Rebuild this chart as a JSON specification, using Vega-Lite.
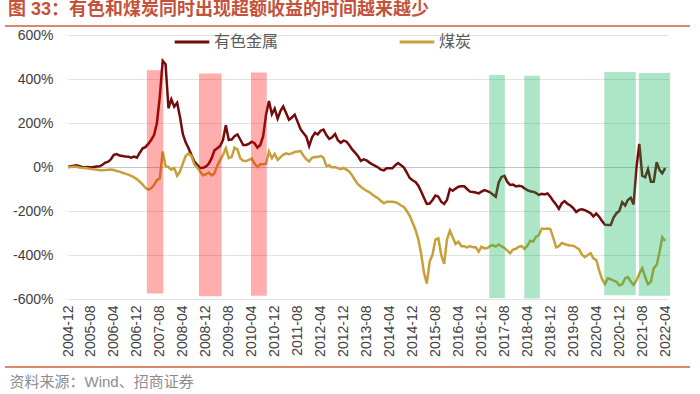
{
  "$schema": "https://vega.github.io/schema/vega-lite/v6.json",
  "width": 685,
  "height": 341,
  "autosize": {"type": "none"},
  "padding": {"left": 5, "top": 26, "right": 10, "bottom": 27},
  "background": "white",
  "config": {
    "view": {"stroke": "#D98A6E", "strokeWidth": 2, "strokeDash": [685, 341]},
    "font": "Liberation Sans, Noto Sans CJK SC",
    "axisX": {"labelOverlap": false, "labelSeparation": 0, "labelBound": false}
  },
  "title": {
    "text": "图 33：有色和煤炭同时出现超额收益的时间越来越少",
    "anchor": "start",
    "frame": "group",
    "offset": 4,
    "dx": 3,
    "fontSize": 18,
    "fontWeight": "bold",
    "color": "#C4523A",
    "font": "Liberation Sans, Noto Sans CJK SC"
  },
  "datasets": {
    "bands": [
      {"kind": "red", "start": "2007-03-17", "end": "2007-09-07", "top": 440, "bottom": -575},
      {"kind": "red", "start": "2008-09-20", "end": "2009-05-17", "top": 425, "bottom": -587},
      {"kind": "red", "start": "2010-03-24", "end": "2010-09-08", "top": 430, "bottom": -585},
      {"kind": "green", "start": "2017-02-21", "end": "2017-08-06", "top": 418, "bottom": -595},
      {"kind": "green", "start": "2018-02-27", "end": "2018-08-12", "top": 415, "bottom": -598},
      {"kind": "green", "start": "2020-06-24", "end": "2021-05-25", "top": 432, "bottom": -583},
      {"kind": "green", "start": "2021-06-26", "end": "2022-05-24", "top": 427, "bottom": -585}
    ],
    "series": [
      {"d": "2004-12", "有色金属": 0, "煤炭": -1},
      {"d": "2005-01", "有色金属": 3, "煤炭": 0},
      {"d": "2005-02", "有色金属": 6, "煤炭": 1},
      {"d": "2005-03", "有色金属": 8, "煤炭": 1},
      {"d": "2005-04", "有色金属": 4, "煤炭": -2},
      {"d": "2005-05", "有色金属": 0, "煤炭": -4},
      {"d": "2005-06", "有色金属": -1, "煤炭": -5},
      {"d": "2005-07", "有色金属": 0, "煤炭": -7},
      {"d": "2005-08", "有色金属": -2, "煤炭": -9},
      {"d": "2005-09", "有色金属": 0, "煤炭": -10},
      {"d": "2005-10", "有色金属": 2, "煤炭": -12},
      {"d": "2005-11", "有色金属": 3, "煤炭": -15},
      {"d": "2005-12", "有色金属": 10, "煤炭": -15},
      {"d": "2006-01", "有色金属": 20, "煤炭": -14},
      {"d": "2006-02", "有色金属": 24, "煤炭": -12},
      {"d": "2006-03", "有色金属": 35, "煤炭": -11},
      {"d": "2006-04", "有色金属": 55, "煤炭": -14},
      {"d": "2006-05", "有色金属": 59, "煤炭": -18},
      {"d": "2006-06", "有色金属": 52, "煤炭": -21},
      {"d": "2006-07", "有色金属": 50, "煤炭": -26},
      {"d": "2006-08", "有色金属": 48, "煤炭": -30},
      {"d": "2006-09", "有色金属": 47, "煤炭": -35},
      {"d": "2006-10", "有色金属": 42, "煤炭": -40},
      {"d": "2006-11", "有色金属": 47, "煤炭": -47},
      {"d": "2006-12", "有色金属": 42, "煤炭": -55},
      {"d": "2007-01", "有色金属": 65, "煤炭": -67},
      {"d": "2007-02", "有色金属": 85, "煤炭": -80},
      {"d": "2007-03", "有色金属": 90, "煤炭": -95},
      {"d": "2007-04", "有色金属": 105, "煤炭": -103},
      {"d": "2007-05", "有色金属": 123, "煤炭": -97},
      {"d": "2007-06", "有色金属": 145, "煤炭": -82},
      {"d": "2007-07", "有色金属": 199, "煤炭": -60},
      {"d": "2007-08", "有色金属": 320, "煤炭": -52},
      {"d": "2007-09", "有色金属": 482, "煤炭": 70},
      {"d": "2007-10", "有色金属": 467, "煤炭": 5},
      {"d": "2007-11", "有色金属": 267, "煤炭": 0},
      {"d": "2007-12", "有色金属": 308, "煤炭": -12},
      {"d": "2008-01", "有色金属": 274, "煤炭": -5},
      {"d": "2008-02", "有色金属": 292, "煤炭": -40},
      {"d": "2008-03", "有色金属": 230, "煤炭": -22},
      {"d": "2008-04", "有色金属": 150, "煤炭": 15},
      {"d": "2008-05", "有色金属": 112, "煤炭": 50},
      {"d": "2008-06", "有色金属": 85, "煤炭": 62},
      {"d": "2008-07", "有色金属": 55, "煤炭": 50},
      {"d": "2008-08", "有色金属": 25, "煤炭": 12},
      {"d": "2008-09", "有色金属": 10, "煤炭": -3},
      {"d": "2008-10", "有色金属": -4, "煤炭": -20},
      {"d": "2008-11", "有色金属": -3, "煤炭": -38},
      {"d": "2008-12", "有色金属": 2, "煤炭": -33},
      {"d": "2009-01", "有色金属": 15, "煤炭": -25},
      {"d": "2009-02", "有色金属": 40, "煤炭": -38},
      {"d": "2009-03", "有色金属": 75, "煤炭": -30},
      {"d": "2009-04", "有色金属": 85, "煤炭": 5},
      {"d": "2009-05", "有色金属": 95, "煤炭": 30},
      {"d": "2009-06", "有色金属": 123, "煤炭": 55},
      {"d": "2009-07", "有色金属": 190, "煤炭": 85},
      {"d": "2009-08", "有色金属": 123, "煤炭": 40},
      {"d": "2009-09", "有色金属": 125, "煤炭": 45},
      {"d": "2009-10", "有色金属": 140, "煤炭": 88},
      {"d": "2009-11", "有色金属": 148, "煤炭": 80},
      {"d": "2009-12", "有色金属": 125, "煤炭": 40},
      {"d": "2010-01", "有色金属": 100, "煤炭": 28},
      {"d": "2010-02", "有色金属": 100, "煤炭": 27},
      {"d": "2010-03", "有色金属": 105, "煤炭": 32},
      {"d": "2010-04", "有色金属": 115, "煤炭": 38},
      {"d": "2010-05", "有色金属": 108, "煤炭": 15},
      {"d": "2010-06", "有色金属": 88, "煤炭": 0},
      {"d": "2010-07", "有色金属": 100, "煤炭": 12},
      {"d": "2010-08", "有色金属": 140, "煤炭": 12},
      {"d": "2010-09", "有色金属": 240, "煤炭": 15},
      {"d": "2010-10", "有色金属": 300, "煤炭": 70},
      {"d": "2010-11", "有色金属": 240, "煤炭": 40},
      {"d": "2010-12", "有色金属": 265, "煤炭": 60},
      {"d": "2011-01", "有色金属": 220, "煤炭": 32},
      {"d": "2011-02", "有色金属": 255, "煤炭": 45},
      {"d": "2011-03", "有色金属": 275, "煤炭": 55},
      {"d": "2011-04", "有色金属": 245, "煤炭": 62},
      {"d": "2011-05", "有色金属": 215, "煤炭": 58},
      {"d": "2011-06", "有色金属": 225, "煤炭": 62},
      {"d": "2011-07", "有色金属": 238, "煤炭": 68},
      {"d": "2011-08", "有色金属": 205, "煤炭": 70},
      {"d": "2011-09", "有色金属": 172, "煤炭": 73},
      {"d": "2011-10", "有色金属": 155, "煤炭": 52},
      {"d": "2011-11", "有色金属": 138, "煤炭": 35},
      {"d": "2011-12", "有色金属": 95, "煤炭": 25},
      {"d": "2012-01", "有色金属": 135, "煤炭": 42},
      {"d": "2012-02", "有色金属": 155, "煤炭": 45},
      {"d": "2012-03", "有色金属": 148, "煤炭": 45},
      {"d": "2012-04", "有色金属": 165, "煤炭": 50},
      {"d": "2012-05", "有色金属": 170, "煤炭": 42},
      {"d": "2012-06", "有色金属": 145, "煤炭": 5},
      {"d": "2012-07", "有色金属": 128, "煤炭": 8},
      {"d": "2012-08", "有色金属": 135, "煤炭": -2},
      {"d": "2012-09", "有色金属": 150, "煤炭": 0},
      {"d": "2012-10", "有色金属": 122, "煤炭": -5},
      {"d": "2012-11", "有色金属": 110, "煤炭": -10},
      {"d": "2012-12", "有色金属": 120, "煤炭": -4},
      {"d": "2013-01", "有色金属": 115, "煤炭": -12},
      {"d": "2013-02", "有色金属": 98, "煤炭": -22},
      {"d": "2013-03", "有色金属": 80, "煤炭": -38},
      {"d": "2013-04", "有色金属": 65, "煤炭": -60},
      {"d": "2013-05", "有色金属": 50, "煤炭": -78},
      {"d": "2013-06", "有色金属": 28, "煤炭": -90},
      {"d": "2013-07", "有色金属": 35, "煤炭": -100},
      {"d": "2013-08", "有色金属": 30, "煤炭": -108},
      {"d": "2013-09", "有色金属": 20, "煤炭": -115},
      {"d": "2013-10", "有色金属": 12, "煤炭": -125},
      {"d": "2013-11", "有色金属": 5, "煤炭": -135},
      {"d": "2013-12", "有色金属": -2, "煤炭": -142},
      {"d": "2014-01", "有色金属": -12, "煤炭": -155},
      {"d": "2014-02", "有色金属": -15, "煤炭": -165},
      {"d": "2014-03", "有色金属": -6, "煤炭": -158},
      {"d": "2014-04", "有色金属": -6, "煤炭": -158},
      {"d": "2014-05", "有色金属": -6, "煤炭": -158},
      {"d": "2014-06", "有色金属": 8, "煤炭": -160},
      {"d": "2014-07", "有色金属": 18, "煤炭": -165},
      {"d": "2014-08", "有色金属": 8, "煤炭": -175},
      {"d": "2014-09", "有色金属": -3, "煤炭": -182},
      {"d": "2014-10", "有色金属": -25, "煤炭": -200},
      {"d": "2014-11", "有色金属": -50, "煤炭": -222},
      {"d": "2014-12", "有色金属": -60, "煤炭": -252},
      {"d": "2015-01", "有色金属": -68, "煤炭": -285},
      {"d": "2015-02", "有色金属": -85, "煤炭": -330},
      {"d": "2015-03", "有色金属": -110, "煤炭": -390},
      {"d": "2015-04", "有色金属": -140, "煤炭": -480},
      {"d": "2015-05", "有色金属": -168, "煤炭": -530},
      {"d": "2015-06", "有色金属": -166, "煤炭": -430},
      {"d": "2015-07", "有色金属": -150, "煤炭": -398},
      {"d": "2015-08", "有色金属": -130, "煤炭": -330},
      {"d": "2015-09", "有色金属": -135, "煤炭": -324},
      {"d": "2015-10", "有色金属": -158, "煤炭": -400},
      {"d": "2015-11", "有色金属": -168, "煤炭": -440},
      {"d": "2015-12", "有色金属": -150, "煤炭": -330},
      {"d": "2016-01", "有色金属": -100, "煤炭": -290},
      {"d": "2016-02", "有色金属": -108, "煤炭": -320},
      {"d": "2016-03", "有色金属": -98, "煤炭": -350},
      {"d": "2016-04", "有色金属": -90, "煤炭": -340},
      {"d": "2016-05", "有色金属": -88, "煤炭": -360},
      {"d": "2016-06", "有色金属": -88, "煤炭": -360},
      {"d": "2016-07", "有色金属": -100, "煤炭": -365},
      {"d": "2016-08", "有色金属": -112, "煤炭": -360},
      {"d": "2016-09", "有色金属": -114, "煤炭": -365},
      {"d": "2016-10", "有色金属": -116, "煤炭": -365},
      {"d": "2016-11", "有色金属": -120, "煤炭": -385},
      {"d": "2016-12", "有色金属": -112, "煤炭": -362},
      {"d": "2017-01", "有色金属": -105, "煤炭": -370},
      {"d": "2017-02", "有色金属": -110, "煤炭": -368},
      {"d": "2017-03", "有色金属": -115, "煤炭": -360},
      {"d": "2017-04", "有色金属": -125, "煤炭": -355},
      {"d": "2017-05", "有色金属": -135, "煤炭": -362},
      {"d": "2017-06", "有色金属": -70, "煤炭": -352},
      {"d": "2017-07", "有色金属": -45, "煤炭": -360},
      {"d": "2017-08", "有色金属": -40, "煤炭": -368},
      {"d": "2017-09", "有色金属": -68, "煤炭": -380},
      {"d": "2017-10", "有色金属": -82, "煤炭": -392},
      {"d": "2017-11", "有色金属": -80, "煤炭": -375},
      {"d": "2017-12", "有色金属": -88, "煤炭": -372},
      {"d": "2018-01", "有色金属": -85, "煤炭": -362},
      {"d": "2018-02", "有色金属": -88, "煤炭": -360},
      {"d": "2018-03", "有色金属": -97, "煤炭": -372},
      {"d": "2018-04", "有色金属": -105, "煤炭": -358},
      {"d": "2018-05", "有色金属": -110, "煤炭": -335},
      {"d": "2018-06", "有色金属": -112, "煤炭": -340},
      {"d": "2018-07", "有色金属": -118, "煤炭": -318},
      {"d": "2018-08", "有色金属": -127, "煤炭": -310},
      {"d": "2018-09", "有色金属": -122, "煤炭": -280},
      {"d": "2018-10", "有色金属": -125, "煤炭": -282},
      {"d": "2018-11", "有色金属": -120, "煤炭": -280},
      {"d": "2018-12", "有色金属": -135, "煤炭": -282},
      {"d": "2019-01", "有色金属": -155, "煤炭": -322},
      {"d": "2019-02", "有色金属": -172, "煤炭": -365},
      {"d": "2019-03", "有色金属": -190, "煤炭": -360},
      {"d": "2019-04", "有色金属": -165, "煤炭": -345},
      {"d": "2019-05", "有色金属": -155, "煤炭": -350},
      {"d": "2019-06", "有色金属": -168, "煤炭": -355},
      {"d": "2019-07", "有色金属": -175, "煤炭": -357},
      {"d": "2019-08", "有色金属": -187, "煤炭": -358},
      {"d": "2019-09", "有色金属": -205, "煤炭": -366},
      {"d": "2019-10", "有色金属": -195, "煤炭": -373},
      {"d": "2019-11", "有色金属": -192, "煤炭": -398},
      {"d": "2019-12", "有色金属": -196, "煤炭": -410},
      {"d": "2020-01", "有色金属": -203, "煤炭": -400},
      {"d": "2020-02", "有色金属": -210, "煤炭": -392},
      {"d": "2020-03", "有色金属": -225, "煤炭": -415},
      {"d": "2020-04", "有色金属": -212, "煤炭": -423},
      {"d": "2020-05", "有色金属": -226, "煤炭": -470},
      {"d": "2020-06", "有色金属": -245, "煤炭": -510},
      {"d": "2020-07", "有色金属": -262, "煤炭": -532},
      {"d": "2020-08", "有色金属": -264, "煤炭": -506},
      {"d": "2020-09", "有色金属": -264, "煤炭": -510},
      {"d": "2020-10", "有色金属": -230, "煤炭": -516},
      {"d": "2020-11", "有色金属": -210, "煤炭": -522},
      {"d": "2020-12", "有色金属": -200, "煤炭": -538},
      {"d": "2021-01", "有色金属": -160, "煤炭": -533},
      {"d": "2021-02", "有色金属": -175, "煤炭": -505},
      {"d": "2021-03", "有色金属": -150, "煤炭": -500},
      {"d": "2021-04", "有色金属": -140, "煤炭": -520},
      {"d": "2021-05", "有色金属": -170, "煤炭": -536},
      {"d": "2021-06", "有色金属": 0, "煤炭": -515},
      {"d": "2021-07", "有色金属": 105, "煤炭": -485},
      {"d": "2021-08", "有色金属": -40, "煤炭": -460},
      {"d": "2021-09", "有色金属": -47, "煤炭": -500},
      {"d": "2021-10", "有色金属": -10, "煤炭": -533},
      {"d": "2021-11", "有色金属": -67, "煤炭": -522},
      {"d": "2021-12", "有色金属": -67, "煤炭": -460},
      {"d": "2022-01", "有色金属": 22, "煤炭": -445},
      {"d": "2022-02", "有色金属": -14, "煤炭": -385},
      {"d": "2022-03", "有色金属": -29, "煤炭": -320},
      {"d": "2022-04", "有色金属": -5, "煤炭": -336}
    ]
  },
  "layer": [
    {
      "data": {"name": "series"},
      "transform": [{"fold": ["有色金属", "煤炭"], "as": ["指数", "超额收益"]}],
      "mark": {"type": "line", "strokeWidth": 2.5},
      "encoding": {
        "x": {
          "field": "d",
          "type": "temporal",
          "scale": {
            "type": "utc",
            "domain": [{"year": 2004, "month": 12, "date": 1, "utc": true}, {"year": 2022, "month": 5, "date": 1, "utc": true}],
            "range": [63, 663],
            "nice": false
          },
          "axis": {
            "orient": "bottom",
            "offset": -68,
            "tickCount": 60,
            "values": [
              {"year": 2004, "month": 12, "date": 1, "utc": true},
              {"year": 2005, "month": 8, "date": 1, "utc": true},
              {"year": 2006, "month": 4, "date": 1, "utc": true},
              {"year": 2006, "month": 12, "date": 1, "utc": true},
              {"year": 2007, "month": 8, "date": 1, "utc": true},
              {"year": 2008, "month": 4, "date": 1, "utc": true},
              {"year": 2008, "month": 12, "date": 1, "utc": true},
              {"year": 2009, "month": 8, "date": 1, "utc": true},
              {"year": 2010, "month": 4, "date": 1, "utc": true},
              {"year": 2010, "month": 12, "date": 1, "utc": true},
              {"year": 2011, "month": 8, "date": 1, "utc": true},
              {"year": 2012, "month": 4, "date": 1, "utc": true},
              {"year": 2012, "month": 12, "date": 1, "utc": true},
              {"year": 2013, "month": 8, "date": 1, "utc": true},
              {"year": 2014, "month": 4, "date": 1, "utc": true},
              {"year": 2014, "month": 12, "date": 1, "utc": true},
              {"year": 2015, "month": 8, "date": 1, "utc": true},
              {"year": 2016, "month": 4, "date": 1, "utc": true},
              {"year": 2016, "month": 12, "date": 1, "utc": true},
              {"year": 2017, "month": 8, "date": 1, "utc": true},
              {"year": 2018, "month": 4, "date": 1, "utc": true},
              {"year": 2018, "month": 12, "date": 1, "utc": true},
              {"year": 2019, "month": 8, "date": 1, "utc": true},
              {"year": 2020, "month": 4, "date": 1, "utc": true},
              {"year": 2020, "month": 12, "date": 1, "utc": true},
              {"year": 2021, "month": 8, "date": 1, "utc": true},
              {"year": 2022, "month": 4, "date": 1, "utc": true}
            ],
            "labelExpr": "utcFormat(datum.value, '%Y-%m')",
            "labelAngle": -90,
            "labelAlign": "right",
            "labelBaseline": "middle",
            "labelPadding": 6,
            "labelFontSize": 14,
            "labelColor": "#404040",
            "labelOverlap": false,
            "labelSeparation": 0,
            "labelBound": false,
            "labelFlush": false,
            "ticks": false,
            "domain": false,
            "grid": false,
            "title": "资料来源：Wind、招商证券",
            "titleX": 4,
            "titleY": 82,
            "titleAlign": "left",
            "titleBaseline": "middle",
            "titleAngle": 0,
            "titleFontSize": 15,
            "titleFontWeight": "normal",
            "titleColor": "#8C8C8C"
          }
        },
        "y": {
          "field": "超额收益",
          "type": "quantitative",
          "scale": {"domain": [-600, 600], "range": [273, 9], "nice": false, "zero": false},
          "axis": {
            "values": [-600, -400, -200, 0, 200, 400, 600],
            "labelExpr": "datum.value + '%'",
            "offset": -63,
            "labelPadding": 15,
            "labelFontSize": 14,
            "labelColor": "#404040",
            "ticks": false,
            "domain": false,
            "grid": true,
            "gridColor": {"condition": {"test": "datum.value === 0", "value": "#C4C4C4"}, "value": "#E3E3E3"},
            "title": null
          }
        },
        "color": {
          "field": "指数",
          "type": "nominal",
          "scale": {"domain": ["有色金属", "煤炭"], "range": ["#720C0C", "#C8A03A"]},
          "legend": {
            "orient": "none",
            "legendX": 168,
            "legendY": -3,
            "direction": "horizontal",
            "title": null,
            "padding": 0,
            "symbolType": "stroke",
            "symbolSize": 1200,
            "symbolStrokeWidth": 3,
            "labelFontSize": 16,
            "labelFont": "Noto Sans CJK SC",
            "labelColor": "#595959",
            "labelOffset": 3,
            "columnPadding": 114
          }
        }
      }
    },
    {
      "data": {"name": "bands"},
      "mark": {"type": "rect", "opacity": 0.32},
      "encoding": {
        "x": {"field": "start", "type": "temporal"},
        "x2": {"field": "end"},
        "y": {"field": "top", "type": "quantitative"},
        "y2": {"field": "bottom"},
        "fill": {"condition": {"test": "datum.kind === 'red'", "value": "#FF0000"}, "value": "#00B050"}
      }
    }
  ]
}
